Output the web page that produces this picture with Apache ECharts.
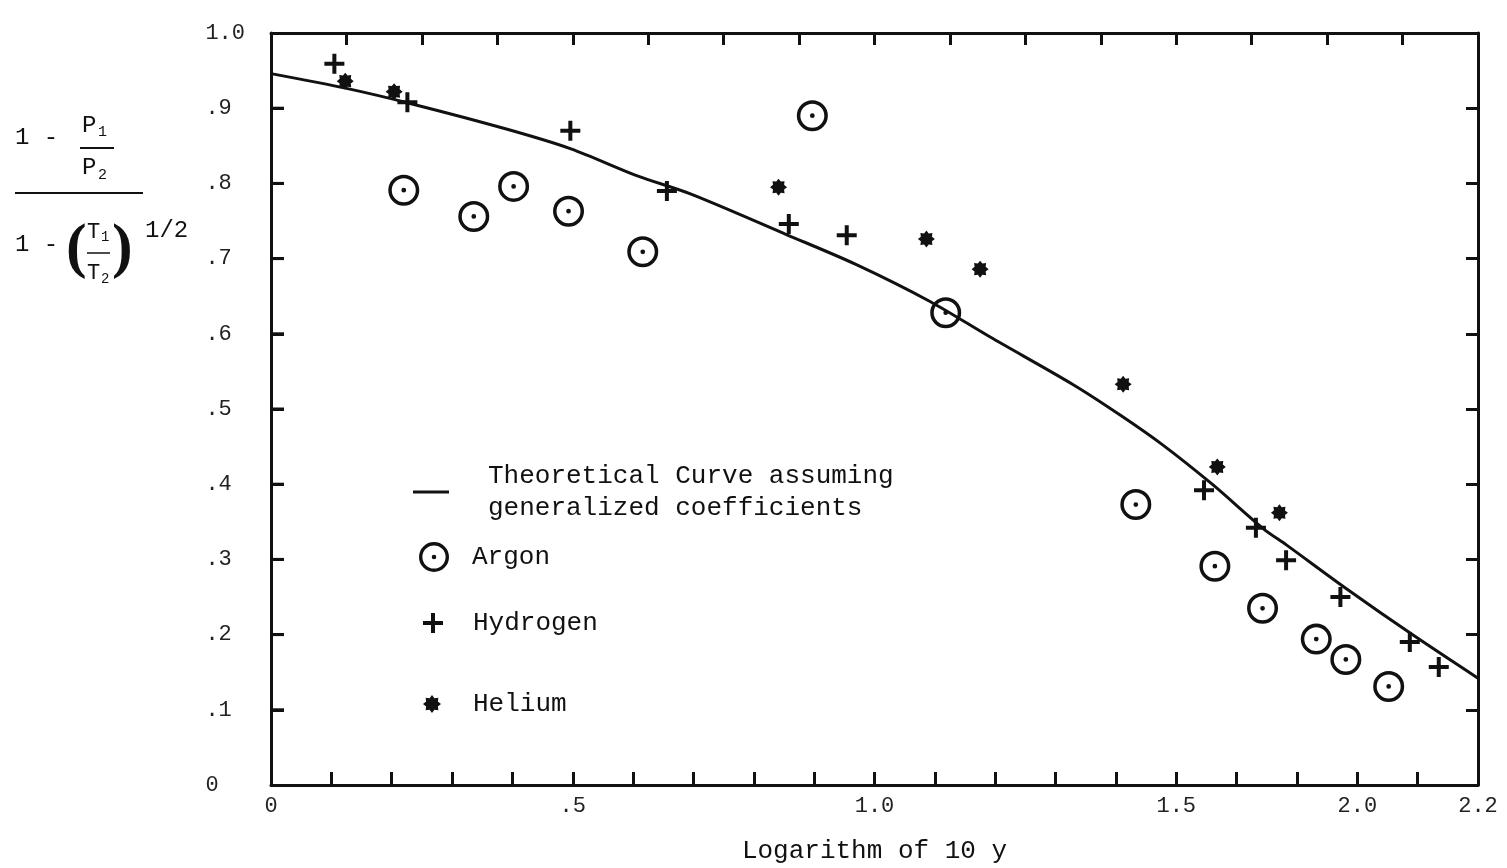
<!DOCTYPE html>
<html>
<head>
<meta charset="utf-8">
<script src="https://cdn.jsdelivr.net/npm/echarts@6/dist/echarts.min.js"></script>
<style>
  html, body { margin: 0; padding: 0; background: #fff; }
  #chart { width: 1507px; height: 868px; }
</style>
</head>
<body>
<div id="chart"></div>
<script>
// values
const curveX = [0, 0.127, 0.232, 0.387, 0.497, 0.607, 0.695, 0.854, 0.970, 1.092, 1.191, 1.330, 1.407, 1.478, 1.561, 1.644, 1.683, 1.782, 1.893, 2.0]
const curveY = [0.946, 0.926, 0.906, 0.873, 0.846, 0.810, 0.786, 0.732, 0.692, 0.643, 0.596, 0.532, 0.492, 0.452, 0.399, 0.341, 0.319, 0.261, 0.199, 0.142]

const argonX = [0.220, 0.336, 0.402, 0.493, 0.616, 0.897, 1.118, 1.433, 1.564, 1.643, 1.732, 1.781, 1.852]
const argonY = [0.791, 0.756, 0.796, 0.763, 0.709, 0.890, 0.628, 0.373, 0.291, 0.235, 0.194, 0.167, 0.131]

const hydrogenX = [0.105, 0.226, 0.496, 0.656, 0.858, 0.954, 1.546, 1.632, 1.682, 1.772, 1.887, 1.935]
const hydrogenY = [0.959, 0.908, 0.870, 0.790, 0.746, 0.731, 0.392, 0.342, 0.299, 0.250, 0.190, 0.157]

const heliumX = [0.123, 0.204, 0.841, 1.086, 1.175, 1.412, 1.568, 1.671]
const heliumY = [0.936, 0.922, 0.795, 0.726, 0.686, 0.533, 0.423, 0.362]

// tick labels as printed on the original (keyed by tenths)
const xTickLabels = { 0: '0', 5: '.5', 10: '1.0', 15: '1.5', 18: '2.0', 20: '2.2' }
const yTickLabels = ['0  ', '.1 ', '.2 ', '.3 ', '.4 ', '.5 ', '.6 ', '.7 ', '.8 ', '.9 ', '1.0']
// left axis tick values (drawn inward)
const yTickValues = [0.1, 0.2, 0.3, 0.4, 0.5, 0.6, 0.7, 0.8, 0.9]

const zip = (xs, ys) => xs.map((x, i) => [x, ys[i]])

const mono = 'Liberation Mono, DejaVu Sans Mono, monospace'
const ink = '#111'

const argonSymbol = 'path://M0,-15A15,15 0 1 1 0,15A15,15 0 1 1 0,-15Z' +
  'M0,-11.6A11.6,11.6 0 1 0 0,11.6A11.6,11.6 0 1 0 0,-11.6Z' +
  'M0,-2.3A2.3,2.3 0 1 1 0,2.3A2.3,2.3 0 1 1 0,-2.3Z'
const crossSymbol = 'path://M-2,-10H2V-2H10V2H2V10H-2V2H-10V-2H-2Z'
let starPath = 'path://'
for (let i = 0; i < 16; i++) {
  const a = Math.PI * i / 8
  const r = i % 2 === 0 ? 8.5 : 6
  starPath += (i === 0 ? 'M' : 'L') + (r * Math.sin(a)).toFixed(2) + ',' + (-r * Math.cos(a)).toFixed(2)
}
starPath += 'Z'

const curveName = 'Theoretical Curve assuming generalized coefficients'

// fresh objects per axis so echarts does not share them between axes
const axisLine = () => ({ show: true, onZero: false, lineStyle: { color: ink, width: 3 } })
const axisTick = (len) => ({ show: true, inside: true, length: len || 12, lineStyle: { color: ink, width: 3 } })

const legendItem = (extra, pad) => Object.assign({
  orient: 'vertical',
  padding: 0,
  itemGap: 0,
  selectedMode: false,
  textStyle: { fontFamily: mono, fontSize: 26, color: ink, padding: [0, 0, 0, pad] }
}, extra)

const chart = echarts.init(document.getElementById('chart'))
chart.setOption({
  animation: false,
  grid: { left: 271, right: 29, top: 33, bottom: 83, outerBoundsMode: 'none' },
  xAxis: [
    {
      type: 'value', position: 'bottom', min: 0, max: 2, interval: 0.1,
      axisLine: axisLine(),
      axisTick: axisTick(13),
      splitLine: { show: false },
      axisLabel: {
        showMaxLabel: true, margin: 10,
        fontFamily: mono, fontSize: 22, color: '#222',
        formatter: v => xTickLabels[Math.round(v * 10)] || ''
      },
      name: 'Logarithm of 10 y', nameLocation: 'middle', nameGap: 53,
      nameTextStyle: { fontFamily: mono, fontSize: 26, color: ink }
    },
    {
      type: 'value', position: 'top', min: 0, max: 2, interval: 0.125,
      axisLine: axisLine(),
      axisTick: axisTick(12),
      splitLine: { show: false },
      axisLabel: { show: false }
    }
  ],
  yAxis: [
    {
      type: 'value', position: 'left', min: 0, max: 1, interval: 0.1,
      axisLine: axisLine(),
      axisTick: axisTick(13),
      splitLine: { show: false },
      axisLabel: {
        margin: 26,
        fontFamily: mono, fontSize: 22, color: '#222',
        formatter: v => yTickLabels[Math.round(v * 10)]
      }
    },
    {
      type: 'value', position: 'right', min: 0, max: 1, interval: 0.1,
      axisLine: axisLine(),
      axisTick: axisTick(12),
      splitLine: { show: false },
      axisLabel: { show: false }
    }
  ],
  legend: [
    legendItem({
      data: [curveName], left: 413, top: 460, itemWidth: 36, itemHeight: 3, icon: 'rect',
      formatter: () => 'Theoretical Curve assuming\ngeneralized coefficients',
      textStyle: { fontFamily: mono, fontSize: 26, color: ink, lineHeight: 32, padding: [0, 0, 0, 34] }
    }, 34),
    legendItem({ data: ['Argon'], left: 419, top: 542, itemWidth: 30, itemHeight: 30 }, 18),
    legendItem({ data: ['Hydrogen'], left: 423, top: 610, itemWidth: 20, itemHeight: 20 }, 25),
    legendItem({ data: ['Helium'], left: 423, top: 691, itemWidth: 18, itemHeight: 18 }, 27)
  ],
  series: [
    {
      name: curveName, type: 'line', data: zip(curveX, curveY),
      smooth: 0.3, showSymbol: false, symbol: 'none',
      lineStyle: { color: ink, width: 3 }, itemStyle: { color: ink }
    },
    {
      name: 'Argon', type: 'scatter', data: zip(argonX, argonY),
      symbol: argonSymbol, symbolSize: 31, itemStyle: { color: ink, opacity: 1 }
    },
    {
      name: 'Hydrogen', type: 'scatter', data: zip(hydrogenX, hydrogenY),
      symbol: crossSymbol, symbolSize: 20, itemStyle: { color: ink, opacity: 1 }
    },
    {
      name: 'Helium', type: 'scatter', data: zip(heliumX, heliumY),
      symbol: starPath, symbolSize: 17, itemStyle: { color: ink, opacity: 1 }
    },
    {
      // inward ticks on the left axis, placed through the y scale
      name: 'leftTicks', type: 'custom', silent: true, clip: false, z: 5,
      data: yTickValues.map(v => [0, v]),
      renderItem: (params, api) => {
        const p = api.coord([api.value(0), api.value(1)])
        return {
          type: 'line',
          shape: { x1: p[0], y1: p[1], x2: p[0] + 13, y2: p[1] },
          style: { stroke: ink, lineWidth: 3 }
        }
      }
    }
  ],
  // y axis title drawn as a stacked fraction
  graphic: [
    { type: 'text', style: { text: '1 -', x: 15, y: 138, fontFamily: mono, fontSize: 24, fill: ink, verticalAlign: 'middle' } },
    { type: 'text', style: { text: 'P', x: 82, y: 126, fontFamily: mono, fontSize: 24, fill: ink, verticalAlign: 'middle' } },
    { type: 'text', style: { text: '1', x: 98, y: 132, fontFamily: mono, fontSize: 15, fill: ink, verticalAlign: 'middle' } },
    { type: 'line', shape: { x1: 80, y1: 148, x2: 114, y2: 148 }, style: { stroke: ink, lineWidth: 2 } },
    { type: 'text', style: { text: 'P', x: 82, y: 168, fontFamily: mono, fontSize: 24, fill: ink, verticalAlign: 'middle' } },
    { type: 'text', style: { text: '2', x: 98, y: 175, fontFamily: mono, fontSize: 15, fill: ink, verticalAlign: 'middle' } },
    { type: 'line', shape: { x1: 15, y1: 193, x2: 143, y2: 193 }, style: { stroke: ink, lineWidth: 2 } },
    { type: 'text', style: { text: '1 -', x: 15, y: 245, fontFamily: mono, fontSize: 24, fill: ink, verticalAlign: 'middle' } },
    { type: 'text', style: { text: '(', x: 66, y: 250, fontFamily: 'Liberation Serif, serif', fontSize: 62, fontWeight: 'bold', fill: ink, verticalAlign: 'middle' } },
    { type: 'text', style: { text: 'T', x: 87, y: 232, fontFamily: mono, fontSize: 22, fill: ink, verticalAlign: 'middle' } },
    { type: 'text', style: { text: '1', x: 101, y: 237, fontFamily: mono, fontSize: 14, fill: ink, verticalAlign: 'middle' } },
    { type: 'line', shape: { x1: 87, y1: 253, x2: 110, y2: 253 }, style: { stroke: ink, lineWidth: 1.5 } },
    { type: 'text', style: { text: 'T', x: 87, y: 273, fontFamily: mono, fontSize: 22, fill: ink, verticalAlign: 'middle' } },
    { type: 'text', style: { text: '2', x: 101, y: 279, fontFamily: mono, fontSize: 14, fill: ink, verticalAlign: 'middle' } },
    { type: 'text', style: { text: ')', x: 112, y: 250, fontFamily: 'Liberation Serif, serif', fontSize: 62, fontWeight: 'bold', fill: ink, verticalAlign: 'middle' } },
    { type: 'text', style: { text: '1/2', x: 145, y: 231, fontFamily: mono, fontSize: 24, fill: ink, verticalAlign: 'middle' } }
  ]
})

window.addEventListener('resize', function () {
  chart.resize()
})
</script>
</body>
</html>
